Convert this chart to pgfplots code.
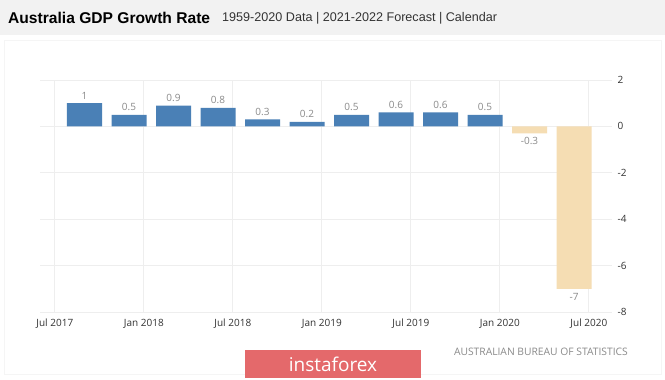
\documentclass[border=0pt]{standalone}
\usepackage{pgfplots}
\pgfplotsset{compat=1.18}
\usepackage{fontspec}
\setmainfont{Open Sans}
\newfontfamily\titlefont{Liberation Sans}
\definecolor{barblue}{HTML}{4A80B6}
\definecolor{barwheat}{HTML}{F5DDB3}
\definecolor{gridc}{HTML}{EEEEEE}
\definecolor{labc}{HTML}{333333}
\definecolor{valc}{HTML}{8A8A8A}
\definecolor{logored}{HTML}{E4696B}
\begin{document}
\begin{tikzpicture}[x=1pt,y=1pt]
\fill[white] (0,0) rectangle (665,380);
\fill[black!5] (0,345) rectangle (665,380);
\draw[black!4] (4,6) rectangle (661,340);
\node[anchor=west,inner sep=0] at (8,362) {\titlefont\fontsize{15.6}{17}\selectfont\bfseries Australia GDP Growth Rate};
\node[anchor=west,inner sep=0] at (222,362) {\titlefont\fontsize{12.6}{14}\selectfont\color{labc} 1959-2020 Data | 2021-2022 Forecast | Calendar};
\begin{axis}[
  at={(40pt,68pt)}, anchor=south west,
  scale only axis, width=572pt, height=232pt,
  xmin=-1, xmax=37.56, ymin=-8, ymax=2,
  axis line style={draw=none}, tick style={draw=none},
  xtick={0,6,12,18,24,30,36},
  xticklabels={Jul 2017,Jan 2018,Jul 2018,Jan 2019,Jul 2019,Jan 2020,Jul 2020},
  ytick={-8,-6,-4,-2,0,2},
  yticklabels={-8,-6,-4,-2,0,2},
  yticklabel pos=right,
  grid=major, major grid style={gridc, line width=0.8pt},
  xticklabel style={font=\fontsize{10}{12}\selectfont, color=labc, yshift=1pt},
  yticklabel style={font=\fontsize{10}{12}\selectfont, color=labc, xshift=2pt},
  ybar, bar shift=0pt, bar width=2.36,
  /pgf/number format/assume math mode=true,
  nodes near coords,
  every node near coord/.append style={font=\fontsize{10}{12}\selectfont, color=valc, inner sep=4pt},
  clip=false,
]
\addplot[fill=barblue, draw=none] coordinates {
(2,1.0) (5,0.5) (8,0.9) (11,0.8) (14,0.3) (17,0.2) (20,0.5) (23,0.6) (26,0.6) (29,0.5)};
\addplot[fill=barwheat, draw=none] coordinates {(32,-0.3) (35,-7)};
\end{axis}
\node[anchor=east,inner sep=0] at (628,28) {\fontsize{10.3}{12}\selectfont\color{valc} AUSTRALIAN BUREAU OF STATISTICS};
\fill[logored] (245,2) rectangle (421,30);
\node[inner sep=0, white] at (333,16) {\fontsize{19}{22}\selectfont instaforex};
\end{tikzpicture}
\end{document}
